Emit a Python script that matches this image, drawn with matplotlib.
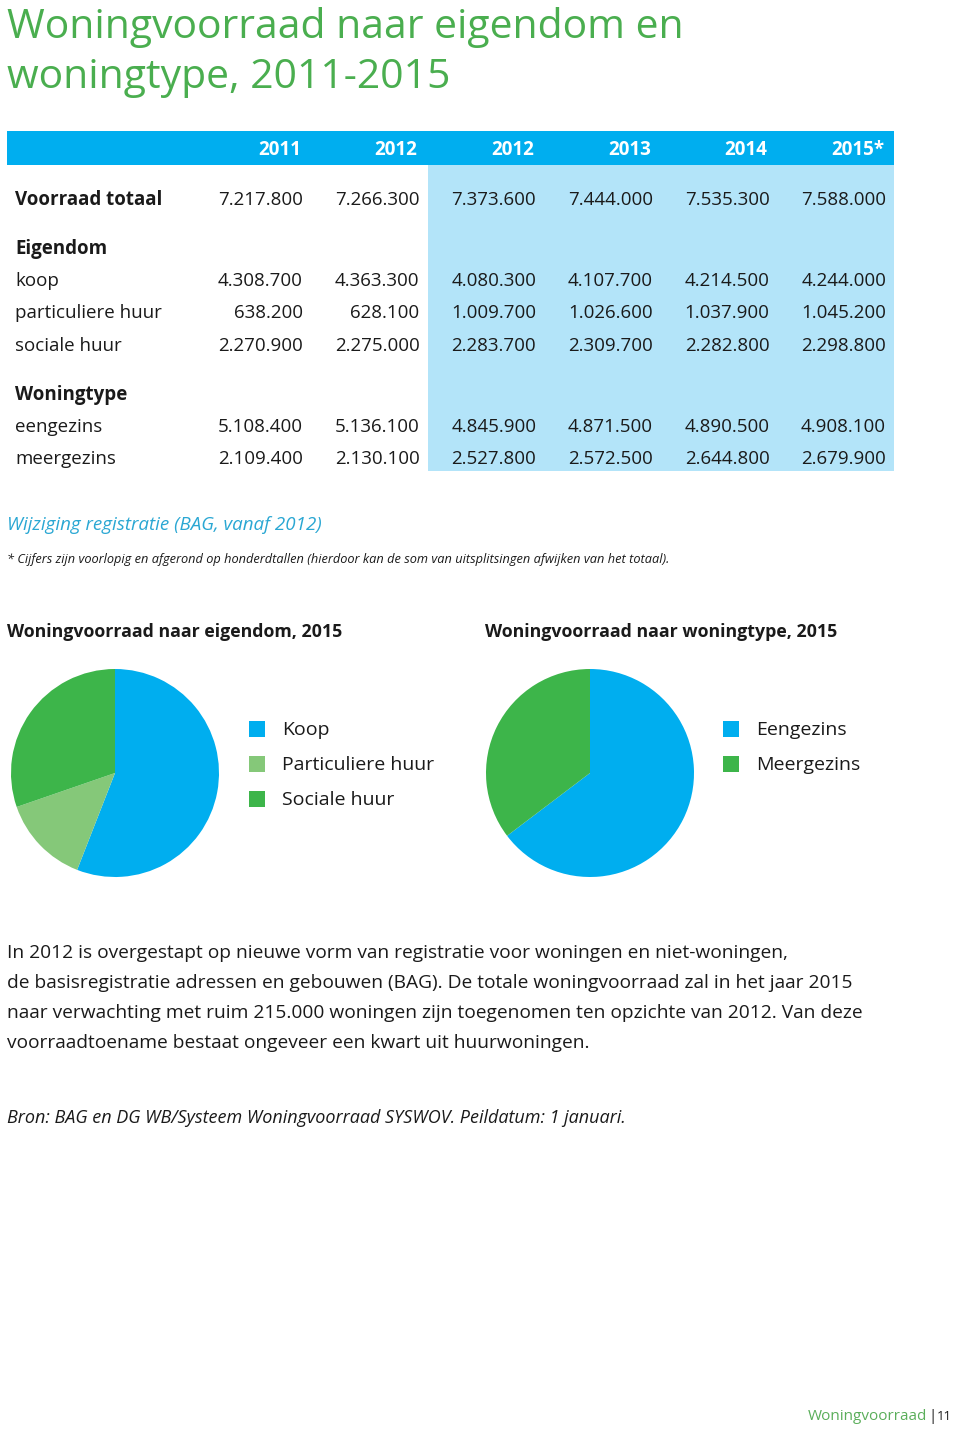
import numpy as np
import matplotlib.pyplot as plt
from matplotlib.patches import Rectangle

plt.rcParams['font.family'] = ['Open Sans', 'DejaVu Sans']

# Gegevens uit de tabel
jaren = ['2011', '2012', '2012', '2013', '2014', '2015*']
voorraad_totaal = [7217800, 7266300, 7373600, 7444000, 7535300, 7588000]
koop = [4308700, 4363300, 4080300, 4107700, 4214500, 4244000]
particuliere_huur = [638200, 628100, 1009700, 1026600, 1037900, 1045200]
sociale_huur = [2270900, 2275000, 2283700, 2309700, 2282800, 2298800]
eengezins = [5108400, 5136100, 4845900, 4871500, 4890500, 4908100]
meergezins = [2109400, 2130100, 2527800, 2572500, 2644800, 2679900]

eigendom_labels = ['Koop', 'Particuliere huur', 'Sociale huur']
type_labels = ['Eengezins', 'Meergezins']

GROEN = '#4aae4f'
BLAUW = '#00aeef'
LICHTBLAUW = '#b3e4f9'
DONKERGROEN = '#3db54a'
LICHTGROEN = '#85c879'
TEKST = '#1a1a1a'


def fmt(v):
    return f'{v:,}'.replace(',', '.')


fig = plt.figure(figsize=(9.6, 14.3), dpi=100)
ax = fig.add_axes([0, 0, 1, 1])
ax.set_xlim(0, 960)
ax.set_ylim(1430, 0)
ax.axis('off')

# Titel
ax.text(7, 27, 'Woningvoorraad naar eigendom en', fontsize=29.4, color=GROEN, va='center')
ax.text(7, 78, 'woningtype, 2011-2015', fontsize=29.4, color=GROEN, va='center')

# Tabel achtergrond
ax.add_patch(Rectangle((7, 131), 887, 34, color=BLAUW, lw=0))
ax.add_patch(Rectangle((428, 165), 466, 306, color=LICHTBLAUW, lw=0))

kol_x = [303 + i * 116.6 for i in range(len(jaren))]
for x, j in zip(kol_x, jaren):
    ax.text(x - 2, 150, j, fontsize=13.5, fontweight='bold', color='white', ha='right', va='center')

rijen = [
    ('Voorraad totaal', voorraad_totaal, 200, True),
    ('koop', koop, 281, False),
    ('particuliere huur', particuliere_huur, 313, False),
    ('sociale huur', sociale_huur, 346, False),
    ('eengezins', eengezins, 427, False),
    ('meergezins', meergezins, 459, False),
]
for naam, waarden, y, vet in rijen:
    ax.text(15, y, naam, fontsize=13.5, fontweight='bold' if vet else 'normal', color=TEKST, va='center')
    for x, v in zip(kol_x, waarden):
        ax.text(x, y, fmt(v), fontsize=13.5, color=TEKST, ha='right', va='center')
ax.text(15, 249, 'Eigendom', fontsize=13.5, fontweight='bold', color=TEKST, va='center')
ax.text(15, 395, 'Woningtype', fontsize=13.5, fontweight='bold', color=TEKST, va='center')

ax.text(7, 525, 'Wijziging registratie (BAG, vanaf 2012)', fontsize=13.5, style='italic',
        color='#2aa7d3', va='center')
ax.text(7, 559, '* Cijfers zijn voorlopig en afgerond op honderdtallen (hierdoor kan de som van '
        'uitsplitsingen afwijken van het totaal).', fontsize=9.2, style='italic', color=TEKST, va='center')

# Grafiektitels
ax.text(7, 632, 'Woningvoorraad naar eigendom, 2015', fontsize=12.8, fontweight='bold', color=TEKST, va='center')
ax.text(485, 632, 'Woningvoorraad naar woningtype, 2015', fontsize=12.8, fontweight='bold', color=TEKST, va='center')

# Legenda's
kleuren_eig = [BLAUW, LICHTGROEN, DONKERGROEN]
for i, (lab, c) in enumerate(zip(eigendom_labels, kleuren_eig)):
    y = 729 + i * 35
    ax.add_patch(Rectangle((249, y - 8), 16, 16, color=c, lw=0))
    ax.text(282, y + 1, lab, fontsize=14, color=TEKST, va='center')
kleuren_type = [BLAUW, DONKERGROEN]
for i, (lab, c) in enumerate(zip(type_labels, kleuren_type)):
    y = 729 + i * 35
    ax.add_patch(Rectangle((723, y - 8), 16, 16, color=c, lw=0))
    ax.text(756, y + 1, lab, fontsize=14, color=TEKST, va='center')

# Taartdiagrammen
r = 104
for cx, waarden, kleuren in [
    (115, [koop[-1], particuliere_huur[-1], sociale_huur[-1]], kleuren_eig),
    (590, [eengezins[-1], meergezins[-1]], kleuren_type),
]:
    pax = fig.add_axes([(cx - r) / 960, (1430 - 773 - r) / 1430, 2 * r / 960, 2 * r / 1430])
    pax.pie(waarden, colors=kleuren, startangle=90, counterclock=False,
            wedgeprops=dict(linewidth=0))
    pax.set_xlim(-1, 1)
    pax.set_ylim(-1, 1)
    pax.set_aspect('equal')

# Toelichting
alinea = [
    'In 2012 is overgestapt op nieuwe vorm van registratie voor woningen en niet-woningen,',
    'de basisregistratie adressen en gebouwen (BAG). De totale woningvoorraad zal in het jaar 2015',
    'naar verwachting met ruim 215.000 woningen zijn toegenomen ten opzichte van 2012. Van deze',
    'voorraadtoename bestaat ongeveer een kwart uit huurwoningen.',
]
for i, regel in enumerate(alinea):
    ax.text(7, 953 + i * 30, regel, fontsize=13.8, color=TEKST, va='center')

ax.text(7, 1118, 'Bron: BAG en DG WB/Systeem Woningvoorraad SYSWOV. Peildatum: 1 januari.',
        fontsize=13, style='italic', color=TEKST, va='center')

ax.text(927, 1416, 'Woningvoorraad', fontsize=11, color='#5aae5a', ha='right', va='center')
ax.text(933, 1416, '|', fontsize=11, color=TEKST, ha='center', va='center')
ax.text(952, 1416, '11', fontsize=9.5, color=TEKST, ha='right', va='center')

fig.savefig('out.png', dpi=100)
